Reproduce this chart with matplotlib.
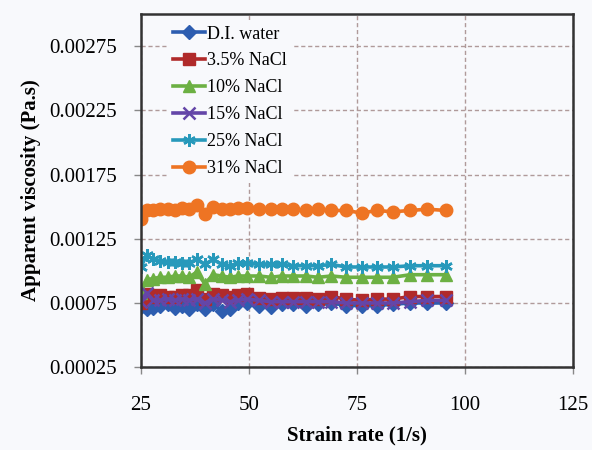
import matplotlib
matplotlib.use("Agg")
import matplotlib.pyplot as plt

strain_rate = [25.0, 26.3, 27.8, 29.4, 31.3, 32.9, 34.6, 36.1, 37.9, 39.8, 41.7, 43.7, 45.6, 47.5, 49.5,
               52.4, 55.0, 57.6, 60.2, 63.2, 66.0, 69.1, 72.5, 76.1, 79.6, 83.3, 87.3, 91.2, 95.7]

di_water = [0.00072, 0.00070, 0.00071, 0.00073, 0.00074, 0.00071, 0.00073, 0.00070, 0.00074, 0.00070,
            0.00074, 0.00069, 0.00070, 0.00075, 0.00075, 0.00073, 0.00072, 0.00074, 0.00074, 0.00073,
            0.00074, 0.00075, 0.00073, 0.00073, 0.00073, 0.00074, 0.00075, 0.00075, 0.00075]
nacl_3_5 = [0.00075, 0.00082, 0.00080, 0.00081, 0.00080, 0.00080, 0.00081, 0.00081, 0.00085, 0.00078,
            0.00082, 0.00081, 0.00080, 0.00081, 0.00082, 0.00079, 0.00078, 0.00079, 0.00079, 0.00079,
            0.00078, 0.00080, 0.00078, 0.00077, 0.00078, 0.00078, 0.00080, 0.00080, 0.00080]
nacl_10 = [0.00083, 0.00093, 0.00094, 0.00095, 0.00095, 0.00096, 0.00096, 0.00095, 0.00099, 0.00090,
           0.00097, 0.00096, 0.00095, 0.00096, 0.00096, 0.00096, 0.00095, 0.00096, 0.00096, 0.00096,
           0.00095, 0.00096, 0.00095, 0.00095, 0.00095, 0.00095, 0.00097, 0.00097, 0.00097]
nacl_15 = [0.00076, 0.00083, 0.00077, 0.00077, 0.00078, 0.00077, 0.00078, 0.00077, 0.00078, 0.00075,
           0.00078, 0.00077, 0.00076, 0.00077, 0.00078, 0.00077, 0.00076, 0.00076, 0.00076, 0.00076,
           0.00076, 0.00076, 0.00075, 0.00075, 0.00075, 0.00075, 0.00076, 0.00077, 0.00077]
nacl_25 = [0.00103, 0.00112, 0.00109, 0.00108, 0.00107, 0.00107, 0.00106, 0.00106, 0.00109, 0.00105,
           0.00109, 0.00105, 0.00104, 0.00106, 0.00106, 0.00105, 0.00105, 0.00105, 0.00104, 0.00104,
           0.00104, 0.00105, 0.00103, 0.00103, 0.00103, 0.00103, 0.00104, 0.00104, 0.00104]
nacl_31 = [0.00140, 0.00147, 0.00147, 0.00148, 0.00148, 0.00147, 0.00149, 0.00148, 0.00151, 0.00144,
           0.00150, 0.00148, 0.00148, 0.00149, 0.00149, 0.00148, 0.00148, 0.00148, 0.00148, 0.00147,
           0.00148, 0.00147, 0.00147, 0.00145, 0.00147, 0.00146, 0.00147, 0.00148, 0.00147]

labels = ["D.I. water", "3.5% NaCl", "10% NaCl", "15% NaCl", "25% NaCl", "31% NaCl"]
series = [di_water, nacl_3_5, nacl_10, nacl_15, nacl_25, nacl_31]
colors = ["#2D5DB0", "#B02A2A", "#6CB043", "#6446A8", "#2799BB", "#EE7423"]
markers = ["D", "s", "^", "x", (6, 2, 0), "o"]
msizes = [7, 8, 8, 8, 9, 9]

x_ticks = [25, 50, 75, 100, 125]
y_ticks = [0.00025, 0.00075, 0.00125, 0.00175, 0.00225, 0.00275]

plt.rcParams['font.family'] = ['Liberation Serif', 'DejaVu Serif']

fig = plt.figure(figsize=(5.92, 4.5), dpi=100)
fig.patch.set_facecolor("#F8F9FC")
ax = fig.add_axes([0.238, 0.184, 0.730, 0.785])
ax.set_facecolor("#F8F9FC")

for vals, lab, c, m, ms in zip(series, labels, colors, markers, msizes):
    ax.plot(strain_rate, vals, color=c, marker=m, markersize=ms, linewidth=2.6,
            markeredgewidth=1.8 if m in ("x", (6, 2, 0)) else 1, label=lab)

ax.set_xlim(25, 125)
ax.set_ylim(0.00025, 0.003)
ax.set_xticks(x_ticks)
ax.set_xticklabels([str(t) for t in x_ticks])
ax.set_yticks(y_ticks)
ax.set_yticklabels([f"{t:.5f}" for t in y_ticks])
ax.tick_params(axis='both', labelsize=15, direction='out', length=5, color='#888888', width=1)
ax.tick_params(axis='x', pad=16)
ax.tick_params(axis='y', pad=12)

ax.grid(True, linestyle=(0, (3, 2)), color='#B09A9A', linewidth=1)
ax.set_axisbelow(True)
for s in ax.spines.values():
    s.set_color('#333333')
    s.set_linewidth(1.8)

ax.set_xlabel("Strain rate (1/s)", fontsize=15, fontweight='bold', labelpad=7)
ax.set_ylabel("Apparent viscosity (Pa.s)", fontsize=15, fontweight='bold', labelpad=6)

leg = ax.legend(loc='upper left', bbox_to_anchor=(0.04, 1.008), frameon=True, fontsize=13,
                handlelength=1.8, handletextpad=0.1, labelspacing=0.55, borderpad=0.3)
leg.get_frame().set_facecolor('#F8F9FC')
leg.get_frame().set_edgecolor('none')
leg.get_frame().set_alpha(1)

fig.savefig("out.png", dpi=100, facecolor=fig.get_facecolor())
